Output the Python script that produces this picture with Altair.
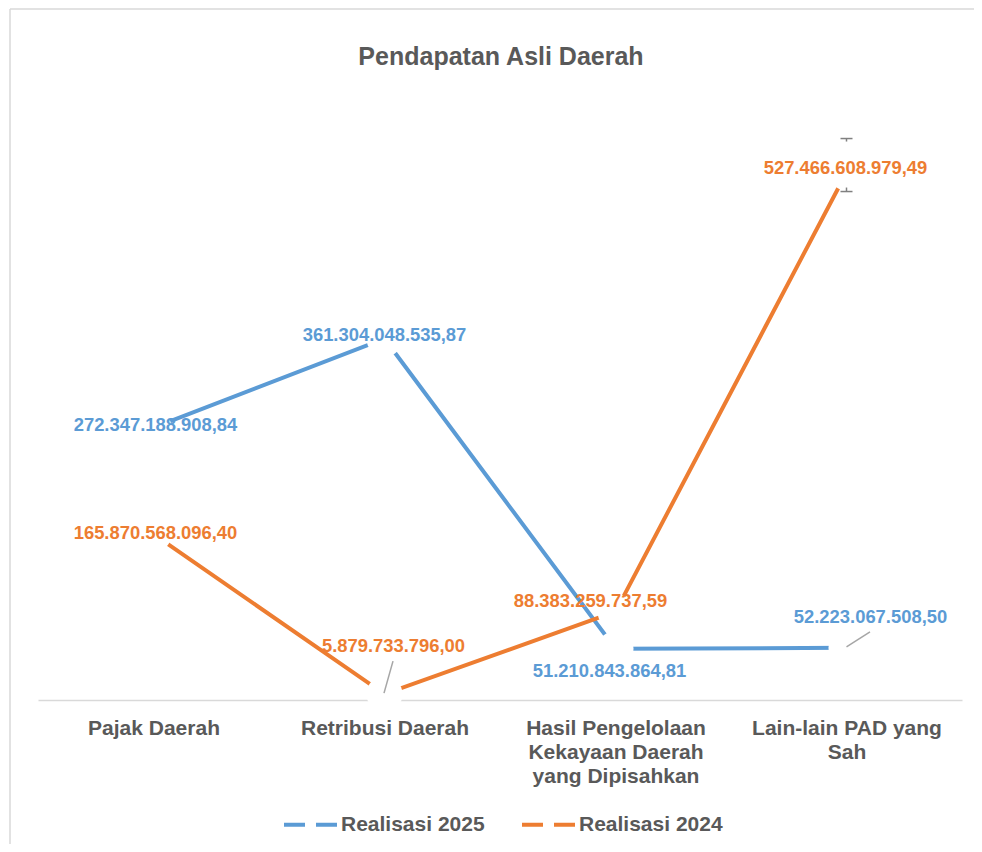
import json
import altair as alt
import pandas as pd

# ---------------- data ----------------
chart_title = "Pendapatan Asli Daerah"
category_lines = [
    ["Pajak Daerah"],
    ["Retribusi Daerah"],
    ["Hasil Pengelolaan", "Kekayaan Daerah", "yang Dipisahkan"],
    ["Lain-lain PAD yang", "Sah"],
]
categories = [" ".join(l) for l in category_lines]
series_names = ["Realisasi 2025", "Realisasi 2024"]
realisasi_2025 = [272347188908.84, 361304048535.87, 51210843864.81, 52223067508.50]
realisasi_2024 = [165870568096.40, 5879733796.00, 88383259737.59, 527466608979.49]

# ---------------- styling ----------------
colors = ["#5B9BD5", "#ED7D31"]
FONT = "Liberation Sans"
GREY_TXT = "#595959"
# label offsets (dx, dy) per series, per category
label_offsets = {
    "Realisasi 2025": [(2, -3), (0, -4), (-6, 22), (24, -31)],
    "Realisasi 2024": [(2, -1), (9, -48), (-25, -11), (-1, -5)],
}


def fmt_id(v):
    s = f"{v:,.2f}"
    return s.replace(",", "X").replace(".", ",").replace("X", ".")


rows = []
for s, vals in zip(series_names, [realisasi_2025, realisasi_2024]):
    for i, (c, v) in enumerate(zip(categories, vals)):
        rows.append({"category": c, "series": s, "value": v, "idx": i, "label": fmt_id(v)})
df = pd.DataFrame(rows)

label_map = {c: l for c, l in zip(categories, category_lines) if len(l) > 1}
expr = "datum.label"
for c, l in label_map.items():
    expr = f"datum.value == {json.dumps(c)} ? {json.dumps(l)} : " + expr

x = alt.X(
    "category:N",
    scale=alt.Scale(type="point", domain=categories, padding=0.5),
    axis=alt.Axis(
        title=None,
        labelAngle=0,
        ticks=False,
        grid=False,
        domainColor="#D9D9D9",
        domainWidth=1.5,
        labelPadding=17,
        labelBaseline="top",
        labelFont=FONT,
        labelFontSize=21,
        labelFontWeight="bold",
        labelColor=GREY_TXT,
        labelLineHeight=24,
        labelLimit=400,
        labelOverlap=False,
        labelExpr=expr,
    ),
)
y = alt.Y("value:Q", scale=alt.Scale(domain=[0, 600e9]), axis=None)

base = alt.Chart(df)

lines = base.mark_line(strokeWidth=4, strokeCap="butt").encode(
    x=x,
    y=y,
    order="idx:Q",
    color=alt.Color(
        "series:N",
        scale=alt.Scale(domain=series_names, range=colors),
        legend=alt.Legend(
            title=None,
            orient="none",
            legendX=244,
            legendY=695,
            direction="horizontal",
            symbolType="stroke",
            symbolStrokeWidth=4,
            symbolDash=[21, 11],
            symbolSize=3025,
            labelFont=FONT,
            labelFontSize=21,
            labelFontWeight="bold",
            labelColor=GREY_TXT,
            labelOffset=0,
            labelLimit=400,
            columnPadding=29,
        ),
    ),
)

gaps = base.mark_point(filled=True, color="white", opacity=1, size=1300, strokeWidth=0).encode(x=x, y=y)

one = pd.DataFrame({"t": [chart_title]})
border_v = alt.Chart(one).mark_rule(color="#D9D9D9", strokeWidth=1.5).encode(
    x=alt.value(-28), y=alt.value(-91), y2=alt.value(744)
)
border_h = alt.Chart(one).mark_rule(color="#D9D9D9", strokeWidth=1.5).encode(
    x=alt.value(-28), x2=alt.value(940), y=alt.value(-91)
)
title_mark = alt.Chart(one).mark_text(
    font=FONT, fontSize=25, fontWeight="bold", color=GREY_TXT, align="center", baseline="alphabetic"
).encode(x=alt.value(463), y=alt.value(-35), text="t:N")


def leader(series, idx, ox, oy, ox2, oy2, color="#A6A6A6"):
    return (
        base.transform_filter(f"datum.series == '{series}' && datum.idx == {idx}")
        .mark_rule(color=color, strokeWidth=1.5, xOffset=ox, yOffset=oy, x2Offset=ox2, y2Offset=oy2)
        .encode(x=x, y=y, x2=alt.X2("category:N"), y2=alt.Y2("value:Q"))
    )


leaders = [
    leader("Realisasi 2024", 1, -0.5, -1, 8.5, -33),
    leader("Realisasi 2025", 3, 0, -1, 23.5, -16),
    # small cap marks above / below the 2024 label at Lain-lain
    leader("Realisasi 2024", 3, -6, -34, 6, -34, "#808080"),
    leader("Realisasi 2024", 3, 0, -34, 0, -31, "#808080"),
    leader("Realisasi 2024", 3, -6, 19, 6, 19, "#808080"),
    leader("Realisasi 2024", 3, 0, 19, 0, 15, "#808080"),
]

labels = []
for s, col in zip(series_names, colors):
    for i, (dx, dy) in enumerate(label_offsets[s]):
        labels.append(
            base.transform_filter(f"datum.series == '{s}' && datum.idx == {i}")
            .mark_text(
                dx=dx,
                dy=dy,
                align="center",
                baseline="middle",
                font=FONT,
                fontSize=18.4,
                fontWeight="bold",
                color=col,
            )
            .encode(x=x, y=y, text="label:N")
        )

chart = (
    alt.layer(border_v, border_h, title_mark, lines, gaps, *leaders, *labels)
    .properties(
        width=924,
        height=600,
        autosize=alt.AutoSizeParams(type="none"),
        padding={"left": 30, "top": 92, "right": 12, "bottom": 144},
        background="white",
    )
    .configure_view(stroke=None)
)

chart.save("out.html", embed_options={"renderer": "svg", "actions": False})
